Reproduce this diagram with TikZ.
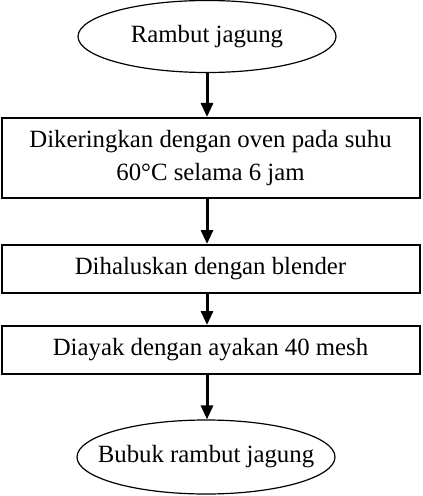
\documentclass[tikz,border=0pt]{standalone}
\usepackage{fontspec}
\setmainfont{Liberation Serif}
\usetikzlibrary{arrows.meta,shapes.geometric}

\begin{document}
\begin{tikzpicture}[
  x=0.5pt, y=-0.5pt,
  line cap=butt,
  line join=miter,
  font=\fontsize{12.4}{16.5}\selectfont,
  langkah/.style={draw, line width=1pt, rectangle, minimum width=209pt, align=center, inner sep=0pt},
  ujung/.style={draw, line width=0.6pt, ellipse, minimum width=129pt, inner xsep=-9pt, inner ysep=0pt},
  panah/.style={line width=1.5pt, -{Triangle[width=6pt,length=7pt]}}
]
  \useasboundingbox (0,0) rectangle (422,496);

  % Bahan awal dan produk akhir
  \node[ujung, minimum height=36pt] (awal)  at (207,36.5) {Rambut jagung};
  \node[ujung, minimum height=37pt] (akhir) at (206,457)  {Bubuk rambut jagung};

  % Tahapan proses
  \node[langkah, minimum height=40pt] (kering) at (210.5,158)
    {Dikeringkan dengan oven pada suhu\\60°C selama 6 jam};
  \node[langkah, minimum height=24pt] (halus)  at (210.5,269) {Dihaluskan dengan blender};
  \node[langkah, minimum height=24pt] (ayak)   at (210.5,350) {Diayak dengan ayakan 40 mesh};

  % Panah
  \draw[panah] (awal.south) -- (awal.south |- kering.north);
  \draw[panah] (awal.south |- kering.south) -- (awal.south |- halus.north);
  \draw[panah] (awal.south |- halus.south) -- (awal.south |- ayak.north);
  \draw[panah] (awal.south |- ayak.south) -- (awal.south |- akhir.north);
\end{tikzpicture}
\end{document}
